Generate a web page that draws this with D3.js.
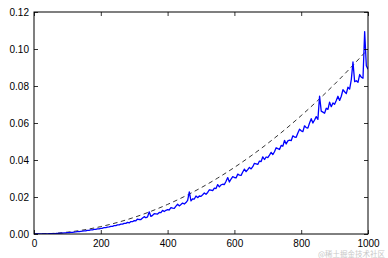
<!DOCTYPE html>
<html>
<head>
<meta charset="utf-8">
<script src="https://cdn.jsdelivr.net/npm/d3@7"></script>
<style>
    html, body {margin: 0; padding: 0; background: #fff;}
    svg {display: block;}
</style>
</head>
<body>
<svg id="chart"></svg>
<script>
const W = 388,
    H = 258;
const margin = {top: 12, right: 20, bottom: 24, left: 34};

// x sample grid of the measured curve (every 5 units)
const sampleX = d3.range(0, 1001, 5);
const measured = [
    0, 0.00000, 0.00001, 0.00001, 0.00002, 0.00004, 0.00006, 0.00008, 0.00010, 0.00013,
    0.00017, 0.00019, 0.00025, 0.00027, 0.00034, 0.00037, 0.00045, 0.00049, 0.00058, 0.00062,
    0.00072, 0.00076, 0.00088, 0.00093, 0.00105, 0.00110, 0.00125, 0.00130, 0.00145, 0.00150,
    0.00168, 0.00173, 0.00192, 0.00197, 0.00218, 0.00224, 0.00245, 0.00251, 0.00276, 0.00281,
    0.00308, 0.00312, 0.00345, 0.00342, 0.00372, 0.00380, 0.00415, 0.00412, 0.00452, 0.00450,
    0.00492, 0.00495, 0.00535, 0.00530, 0.00578, 0.00575, 0.00625, 0.00598, 0.00672, 0.00665,
    0.00723, 0.00713, 0.00808, 0.00783, 0.00779, 0.00866, 0.00938, 0.00876, 0.00928, 0.01200,
    0.00950, 0.01009, 0.01094, 0.01086, 0.01076, 0.01162, 0.01154, 0.01276, 0.01213, 0.01281,
    0.01313, 0.01298, 0.01430, 0.01395, 0.01389, 0.01508, 0.01608, 0.01519, 0.01593, 0.01673,
    0.01620, 0.01701, 0.01818, 0.02280, 0.01786, 0.01904, 0.01889, 0.02055, 0.01964, 0.02054,
    0.02035, 0.02123, 0.02222, 0.02150, 0.02246, 0.02391, 0.02365, 0.02340, 0.02484, 0.02459,
    0.02670, 0.02548, 0.02657, 0.02689, 0.02676, 0.02853, 0.03050, 0.02809, 0.02970, 0.03100,
    0.03054, 0.03031, 0.03236, 0.03181, 0.03170, 0.03354, 0.03510, 0.03369, 0.03478, 0.03602,
    0.03518, 0.03639, 0.03820, 0.03792, 0.03760, 0.03943, 0.03917, 0.04172, 0.04026, 0.04162,
    0.04132, 0.04267, 0.04411, 0.04295, 0.04445, 0.04660, 0.04616, 0.04566, 0.04789, 0.04746,
    0.05061, 0.04865, 0.05034, 0.05071, 0.05045, 0.05307, 0.05240, 0.05230, 0.05465, 0.05666,
    0.05578, 0.05535, 0.05849, 0.05749, 0.05725, 0.06000, 0.06231, 0.05997, 0.06162, 0.06344,
    0.06196, 0.07450, 0.06641, 0.06587, 0.06527, 0.06797, 0.06737, 0.07128, 0.06882, 0.07087,
    0.07015, 0.07222, 0.07445, 0.07221, 0.07446, 0.07799, 0.07688, 0.07586, 0.07932, 0.07832,
    0.08347, 0.09300, 0.08236, 0.08282, 0.08199, 0.08620, 0.08476, 0.08418, 0.10940, 0.09096,
    0.08900
];

// reference (dashed) curve
const refX = [0, 50, 100, 150, 200, 250, 300, 350, 400, 450, 500,
    550, 600, 650, 700, 750, 800, 850, 900, 950, 1000];
const refY = [0, 0.00025, 0.001, 0.00225, 0.004, 0.00625, 0.009, 0.01225, 0.016, 0.02025, 0.025,
    0.03025, 0.036, 0.04225, 0.049, 0.05625, 0.064, 0.07225, 0.081, 0.09025, 0.1];

const xTicks = [0, 200, 400, 600, 800, 1000];
const yTicks = [0, 0.02, 0.04, 0.06, 0.08, 0.10, 0.12];

let svg = d3.select("#chart")
    .attr("width", W)
    .attr("height", H)
    .attr("font-family", "DejaVu Sans, sans-serif");

let x = d3.scaleLinear()
    .domain([0, 1000])
    .range([margin.left, W - margin.right]);
let y = d3.scaleLinear()
    .domain([0, 0.12])
    .range([H - margin.bottom, margin.top]);

svg.append("defs").append("clipPath").attr("id", "clip")
    .append("rect")
    .attr("x", margin.left)
    .attr("y", margin.top)
    .attr("width", W - margin.left - margin.right)
    .attr("height", H - margin.top - margin.bottom);

let plot = svg.append("g").attr("clip-path", "url(#clip)");

plot.append("path")
    .datum(refX.map((d, i) => [d, refY[i]]))
    .attr("fill", "none")
    .attr("stroke", "#000")
    .attr("stroke-width", 0.8)
    .attr("stroke-dasharray", "4.5,3.5")
    .attr("d", d3.line().x(d => x(d[0])).y(d => y(d[1])).curve(d3.curveMonotoneX));

plot.append("path")
    .datum(sampleX.map((d, i) => [d, measured[i]]))
    .attr("fill", "none")
    .attr("stroke", "#0000ff")
    .attr("stroke-width", 1.3)
    .attr("stroke-linejoin", "round")
    .attr("d", d3.line().x(d => x(d[0])).y(d => y(d[1])));

// axes, matplotlib classic: ticks inward on all four sides
const fmtY = d3.format(".2f");
function tickStyle(g) {
    g.select(".domain").remove();
    g.selectAll(".tick line").attr("stroke", "#000").attr("stroke-width", 0.8);
    g.selectAll(".tick text").attr("fill", "#000").attr("font-size", 10);
}

svg.append("g")
    .attr("transform", `translate(0,${H - margin.bottom})`)
    .call(d3.axisBottom(x).tickValues(xTicks).tickFormat(d3.format("d")).tickSizeInner(-4).tickPadding(6))
    .call(tickStyle);
svg.append("g")
    .attr("transform", `translate(0,${margin.top})`)
    .call(d3.axisTop(x).tickValues(xTicks).tickSizeInner(-4).tickFormat(""))
    .call(tickStyle);
svg.append("g")
    .attr("transform", `translate(${margin.left},0)`)
    .call(d3.axisLeft(y).tickValues(yTicks).tickFormat(fmtY).tickSizeInner(-4).tickPadding(5))
    .call(tickStyle);
svg.append("g")
    .attr("transform", `translate(${W - margin.right},0)`)
    .call(d3.axisRight(y).tickValues(yTicks).tickSizeInner(-4).tickFormat(""))
    .call(tickStyle);

// frame
svg.append("rect")
    .attr("x", margin.left)
    .attr("y", margin.top)
    .attr("width", W - margin.left - margin.right)
    .attr("height", H - margin.top - margin.bottom)
    .attr("fill", "none")
    .attr("stroke", "#000")
    .attr("stroke-width", 1);

// watermark
svg.append("text")
    .attr("x", W - 3)
    .attr("y", 257)
    .attr("text-anchor", "end")
    .attr("font-family", "Noto Sans CJK SC, sans-serif")
    .attr("font-size", 7.5)
    .attr("fill", "#c8c8c8")
    .text("@稀土掘金技术社区");
</script>
</body>
</html>
